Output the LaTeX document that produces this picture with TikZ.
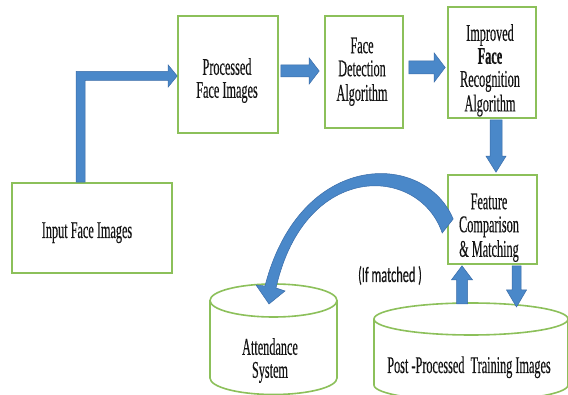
\documentclass[tikz,border=0pt]{standalone}
\usepackage{fontspec}
\setmainfont{Liberation Serif}[FakeStretch=0.51, UprightFeatures={FakeBold=0.25}, BoldFeatures={FakeBold=0.6}]
\newfontfamily\ifont{Carlito}[FakeStretch=0.56, FakeBold=0.2]
\usetikzlibrary{calc}
\definecolor{boxgreen}{RGB}{140,192,90}
\definecolor{arrowblue}{RGB}{74,136,201}
\definecolor{arrowedge}{RGB}{58,108,168}
\definecolor{txtcol}{RGB}{20,20,20}
\tikzset{
  box/.style={draw=boxgreen, line width=1.6pt, fill=white, inner sep=0pt},
  cyl/.style={draw=boxgreen, line width=1.6pt},
  txt/.style={font=\fontsize{24}{23}\selectfont, text=txtcol, align=center, inner sep=0pt},
  barrow/.style={fill=arrowblue, draw=arrowedge, line width=0.5pt, line join=miter},
}
\newcommand\blockarrow[5]{%
  \filldraw[barrow] let \p1=(#1),\p2=(#2),
    \n1={atan2(\y2-\y1,\x2-\x1)},\n2={veclen(\x2-\x1,\y2-\y1)} in
    [rotate around={\n1:(\p1)}]
    (\x1,\y1+#3) -- (\x1+\n2-#5,\y1+#3) -- (\x1+\n2-#5,\y1+#4) -- (\x1+\n2,\y1)
    -- (\x1+\n2-#5,\y1-#4) -- (\x1+\n2-#5,\y1-#3) -- (\x1,\y1-#3) -- cycle;}
\begin{document}
\begin{tikzpicture}[x=1pt,y=-1pt]
\useasboundingbox[fill=white] (0,0) rectangle (568,395);
\clip (0,0) rectangle (568,395);

% boxes
\node[box, minimum width=100pt, minimum height=117pt] (proc) at (228,74.5) {};
\node[box, minimum width=78pt, minimum height=112pt] (det) at (364,72) {};
\node[box, minimum width=88pt, minimum height=111pt] (imp) at (492,62.5) {};
\node[box, minimum width=89pt, minimum height=89pt] (feat) at (492.5,219.5) {};
\node[box, minimum width=160pt, minimum height=90pt] (input) at (92,228) {};

% cylinders
\coordinate (attc) at (273.5,300.5);
\coordinate (postc) at (471,319);
\draw[cyl] (attc) ellipse [x radius=63.5pt, y radius=16.5pt];
\draw[cyl] ($(attc)+(-63.5,0)$) -- ($(attc)+(-63.5,77.5)$)
  arc[start angle=180, end angle=360, x radius=63.5pt, y radius=16.5pt]
  -- ($(attc)+(63.5,0)$);
\draw[cyl] (postc) ellipse [x radius=97pt, y radius=16pt];
\draw[cyl] ($(postc)+(-97,0)$) -- ($(postc)+(-97,66)$)
  arc[start angle=180, end angle=360, x radius=97pt, y radius=16pt]
  -- ($(postc)+(97,0)$);

% texts
\node[txt] (proct) at (227,81.4) {\strut Processed\\\strut Face Images};
\node[txt] (dett) at (362,72.4) {\strut Face\\\strut Detection\\\strut Algorithm};
\node[txt] (impt) at (490,71.2) {\strut Improved\\\strut\textbf{Face}\\\strut Recognition\\\strut Algorithm};
\node[txt] (featt) at (489,228.4) {\strut Feature\\\strut Comparison\\\strut \& Matching};
\node[txt, anchor=base] (inputt) at (87,238) {Input Face Images};
\node[txt] (attt) at (270,361.4) {\strut Attendance\\\strut System};
\node[txt, anchor=base] (postt) at (469,373) {Post -Processed\ \ Training Images};
\node[font=\ifont\fontsize{22}{22}\selectfont, text=txtcol, anchor=base, inner sep=0pt] (ifm) at (390,282) {(If matched )};

% elbow arrow
\filldraw[barrow] let \p1=($(input.north)+(-11.5,0)$), \p2=($(proc.west)+(0,1.5)$) in
  (\x1-4.5pt,\y1) -- (\x1-4.5pt,\y2+4.5pt) -- (\x2-9pt,\y2+4.5pt) -- (\x2-9pt,\y2+11pt)
  -- (\x2,\y2) -- (\x2-9pt,\y2-11pt) -- (\x2-9pt,\y2-4.5pt) -- (\x1+4.5pt,\y2-4.5pt)
  -- (\x1+4.5pt,\y1) -- cycle;

% straight block arrows
\blockarrow{$(proc.east)+(2,-3.5)$}{$(det.west)+(-5,-1)$}{6pt}{13pt}{10pt}
\blockarrow{$(det.east)+(5,-4.5)$}{$(imp.west)+(-2,5)$}{6.5pt}{14.5pt}{11pt}
\blockarrow{$(imp.south)+(4,1)$}{$(feat.north)+(3.5,-2)$}{6pt}{10pt}{16pt}
\blockarrow{$(postc)+(-9,-15)$}{$(feat.south)+(-30.5,1)$}{5.5pt}{10.5pt}{14pt}
\blockarrow{$(feat.south)+(24,1)$}{$(postc)+(45.5,-12)$}{4.5pt}{10pt}{17pt}

% curved arrow
\filldraw[barrow] ($(feat.west)+(6,-0.5)$)
  .. controls ($(feat.west)+(-23,-69.5)$) and ($(attc)+(26.5,-150.5)$) .. ($(attc)+(-8.5,-14.5)$)
  -- ($(attc)+(-17.5,-15.5)$) -- ($(attc)+(-4.5,3.5)$) -- ($(attc)+(11.5,-9.5)$)
  -- ($(attc)+(2.5,-12.5)$)
  .. controls ($(attc)+(31.5,-140.5)$) and ($(feat.west)+(-28,-54.5)$) .. ($(feat.west)+(-5,13.5)$)
  -- cycle;
\end{tikzpicture}
\end{document}
